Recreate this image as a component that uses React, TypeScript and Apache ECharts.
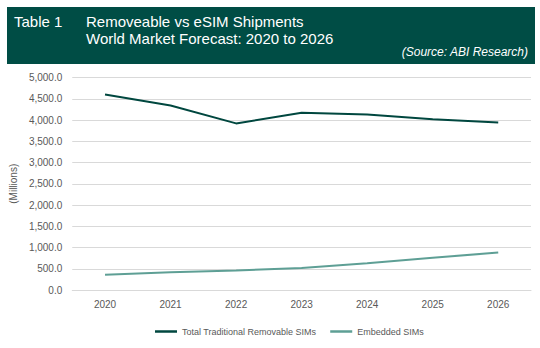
import React, { useEffect, useRef } from "react";
import * as echarts from "echarts";

const years = ["2020", "2021", "2022", "2023", "2024", "2025", "2026"];
const removableSims = [4600, 4340, 3920, 4170, 4130, 4020, 3940];
const embeddedSims = [360, 420, 460, 520, 630, 760, 880];
const seriesNames = ["Total Traditional Removable SIMs", "Embedded SIMs"];
const titleLines = ["Removeable vs eSIM Shipments", "World Market Forecast: 2020 to 2026"];
const tableLabel = "Table 1";
const sourceText = "(Source: ABI Research)";

const FONT = "'Liberation Sans', Arial, sans-serif";

export default function App() {
  const ref = useRef<HTMLDivElement>(null);
  useEffect(() => {
    if (!ref.current) return;
    const chart = echarts.init(ref.current, undefined, { renderer: "svg" });
    const fmt = (v: number) =>
      v.toLocaleString("en-US", { minimumFractionDigits: 1, maximumFractionDigits: 1 });
    chart.setOption({
      animation: false,
      backgroundColor: "#ffffff",
      textStyle: { fontFamily: FONT },
      graphic: [
        { type: "rect", shape: { x: 7, y: 7, width: 528, height: 57 }, style: { fill: "#004D45" }, silent: true },
        {
          type: "text", x: 14, y: 21.5,
          style: { text: tableLabel, fill: "#ffffff", font: `15px ${FONT}`, verticalAlign: "middle", align: "left" },
        },
        {
          type: "text", x: 86, y: 21.5,
          style: { text: titleLines[0], fill: "#ffffff", font: `15px ${FONT}`, verticalAlign: "middle", align: "left" },
        },
        {
          type: "text", x: 86, y: 38.8,
          style: { text: titleLines[1], fill: "#ffffff", font: `15px ${FONT}`, verticalAlign: "middle", align: "left" },
        },
        {
          type: "text", x: 528, y: 52,
          style: { text: sourceText, fill: "#ffffff", font: `italic 12px ${FONT}`, verticalAlign: "middle", align: "right" },
        },
      ],
      grid: { left: 69, right: 9, top: 77.5, bottom: 58, containLabel: false },
      legend: {
        left: 150,
        top: 322,
        icon: "rect",
        itemWidth: 22,
        itemHeight: 2.5,
        itemGap: 14,
        textStyle: { color: "#595959", fontSize: 9 },
        data: seriesNames,
      },
      xAxis: {
        type: "category",
        data: years,
        boundaryGap: true,
        axisLine: { show: true, lineStyle: { color: "#D9D9D9", width: 1 } },
        axisTick: { show: false },
        axisLabel: { color: "#595959", fontSize: 10, margin: 9 },
      },
      yAxis: {
        type: "value",
        min: 0,
        max: 5000,
        interval: 500,
        name: "(Millions)",
        nameLocation: "middle",
        nameGap: 52,
        nameTextStyle: { color: "#595959", fontSize: 10 },
        axisLine: { show: false },
        axisTick: { show: false },
        axisLabel: { color: "#595959", fontSize: 10, margin: 10, formatter: fmt },
        splitLine: { lineStyle: { color: "#D9D9D9", width: 1 } },
      },
      series: [
        {
          name: seriesNames[0],
          type: "line",
          data: removableSims,
          showSymbol: false,
          symbol: "none",
          lineStyle: { color: "#00473F", width: 2 },
          itemStyle: { color: "#00473F" },
        },
        {
          name: seriesNames[1],
          type: "line",
          data: embeddedSims,
          showSymbol: false,
          symbol: "none",
          lineStyle: { color: "#5E9F95", width: 2 },
          itemStyle: { color: "#5E9F95" },
        },
      ],
    });
    return () => chart.dispose();
  }, []);
  return (
    <div
      ref={ref}
      style={{ position: "fixed", left: 0, top: 0, width: 540, height: 348 }}
    />
  );
}
